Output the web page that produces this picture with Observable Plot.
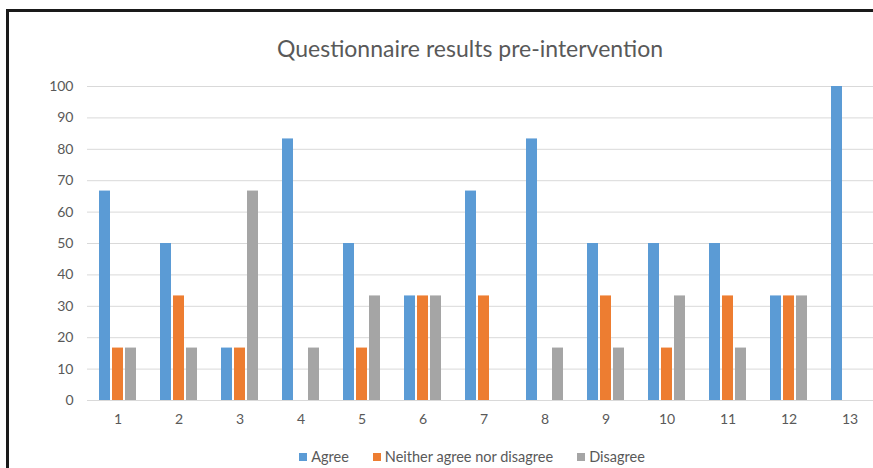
<!DOCTYPE html>
<html>
<head>
<meta charset="utf-8">
<script src="https://cdn.jsdelivr.net/npm/d3@7"></script>
<script src="https://cdn.jsdelivr.net/npm/@observablehq/plot@0.6"></script>
<style>
  html, body { margin: 0; padding: 0; background: #fff; overflow: hidden; }
  body { width: 873px; height: 468px; position: relative; font-family: Lato, "Open Sans", sans-serif; }
  #frame { position: absolute; left: 6px; top: 9px; width: 920px; height: 520px;
           border-top: 3px solid #1a1a1a; border-left: 3px solid #1a1a1a; box-sizing: border-box; }
  #title { position: absolute; left: 0; width: 940px; top: 34px; text-align: center;
           font-size: 23px; line-height: 28px; color: #595959; white-space: nowrap; }
  #chart { position: absolute; left: 0; top: 70px; width: 880px; }
  #chart svg { max-width: none !important; }
  #legend { position: absolute; left: 0; width: 944px; top: 448px; display: flex; justify-content: center;
            gap: 24px; font-size: 14.5px; line-height: 18px; color: #595959; }
  #legend span.item { display: inline-flex; align-items: center; }
  #legend span.sw { display: inline-block; width: 8px; height: 8px; margin-right: 4px; }
</style>
</head>
<body>
<div id="frame"></div>
<div id="title">Questionnaire results pre-intervention</div>
<div id="chart"></div>
<div id="legend"></div>
<script>
const categories = ["1","2","3","4","5","6","7","8","9","10","11","12","13"];
const series = ["Agree", "Neither agree nor disagree", "Disagree"];
const agree    = [66.7, 50, 16.7, 83.3, 50, 33.3, 66.7, 83.3, 50, 50, 50, 33.3, 100];
const neither  = [16.7, 33.3, 16.7, 0, 16.7, 33.3, 33.3, 0, 33.3, 16.7, 33.3, 33.3, 0];
const disagree = [16.7, 16.7, 66.7, 16.7, 33.3, 33.3, 0, 16.7, 16.7, 33.3, 16.7, 33.3, 0];
const yTicks = [0, 10, 20, 30, 40, 50, 60, 70, 80, 90, 100];
const colors = ["#5B9BD5", "#ED7D31", "#A5A5A5"];

const valuesBySeries = [agree, neither, disagree];
const data = [];
categories.forEach((c, i) => {
  series.forEach((s, j) => data.push({cat: c, series: s, value: valuesBySeries[j][i]}));
});

const chart = Plot.plot({
  width: 880,
  height: 360,
  marginLeft: 87,
  marginRight: 0,
  marginTop: 16,
  marginBottom: 30,
  style: {fontFamily: "Lato, 'Open Sans', sans-serif", fontSize: "14px", color: "#595959", background: "transparent", overflow: "visible", maxWidth: "none"},
  fx: {domain: categories, padding: 0, label: null, axis: null},
  x: {domain: series, paddingInner: 0.185, paddingOuter: 0.85, axis: null},
  y: {domain: [0, 100], label: null, axis: null},
  color: {domain: series, range: colors},
  marks: [
    Plot.gridY(yTicks, {stroke: "#d9d9d9", strokeOpacity: 1, strokeWidth: 1}),
    Plot.barY(data, {fx: "cat", x: "series", y: "value", fill: "series"}),
    Plot.axisY(yTicks, {tickSize: 0, tickPadding: 14, label: null, fill: "#595959"}),
    Plot.axisFx({anchor: "bottom", tickSize: 0, tickPadding: 14, label: null, fill: "#595959"})
  ]
});
document.getElementById("chart").appendChild(chart);

const legend = document.getElementById("legend");
series.forEach((s, j) => {
  const item = document.createElement("span");
  item.className = "item";
  const sw = document.createElement("span");
  sw.className = "sw";
  sw.style.background = colors[j];
  item.appendChild(sw);
  item.appendChild(document.createTextNode(s));
  legend.appendChild(item);
});
</script>
</body>
</html>
